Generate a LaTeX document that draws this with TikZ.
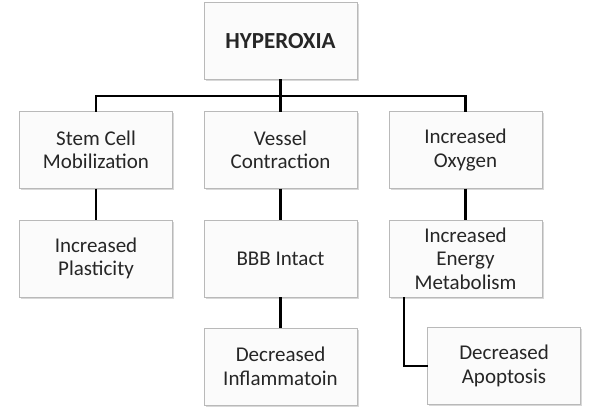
\documentclass[tikz,border=0pt]{standalone}
\usepackage{fontspec}
\setmainfont{Carlito}
\usetikzlibrary{shadows}

\tikzset{
  box/.style={draw=gray!55, fill=gray!3, minimum width=153pt, minimum height=77pt,
    inner sep=0pt, outer sep=0pt, align=center, text=black!85,
    font=\fontsize{21}{23.5}\selectfont,
    drop shadow={shadow xshift=1.5pt, shadow yshift=-1.5pt, fill=gray!60, opacity=0.5}},
  link/.style={line width=2.4pt, black}
}

\begin{document}
\begin{tikzpicture}[x=1pt, y=-1pt]
  \useasboundingbox (0,0) rectangle (600,412);
  % top
  \node[box, font=\fontsize{23}{26}\selectfont\bfseries] (hyp) at (280.5,41) {HYPEROXIA};
  % first row
  \node[box] (stem) at (96,150) {Stem Cell\\Mobilization};
  \node[box] (ves) at (280.5,150) {Vessel\\Contraction};
  \node[box] (oxy) at (465.5,150) {Increased\\Oxygen};
  % second row
  \node[box] (plas) at (96,258.5) {Increased\\Plasticity};
  \node[box] (bbb) at (280.5,258.5) {BBB Intact};
  \node[box] (ener) at (465.5,258.5) {Increased\\Energy\\Metabolism};
  % third row
  \node[box] (infl) at (280.5,366.5) {Decreased\\Inflammatoin};
  \node[box] (apop) at (504,366) {Decreased\\Apoptosis};
  \coordinate (bar) at (280.5,96);

  \draw[link] (hyp) -- (ves);
  \draw[link] (stem.north) -- (stem.north |- bar) -- (oxy.north |- bar) -- (oxy.north);
  \foreach \a/\b in {stem/plas, ves/bbb, oxy/ener, bbb/infl}
    \draw[link] (\a) -- (\b);
  \draw[link] ([xshift=15pt]ener.south west) |- (apop.west);
\end{tikzpicture}
\end{document}
